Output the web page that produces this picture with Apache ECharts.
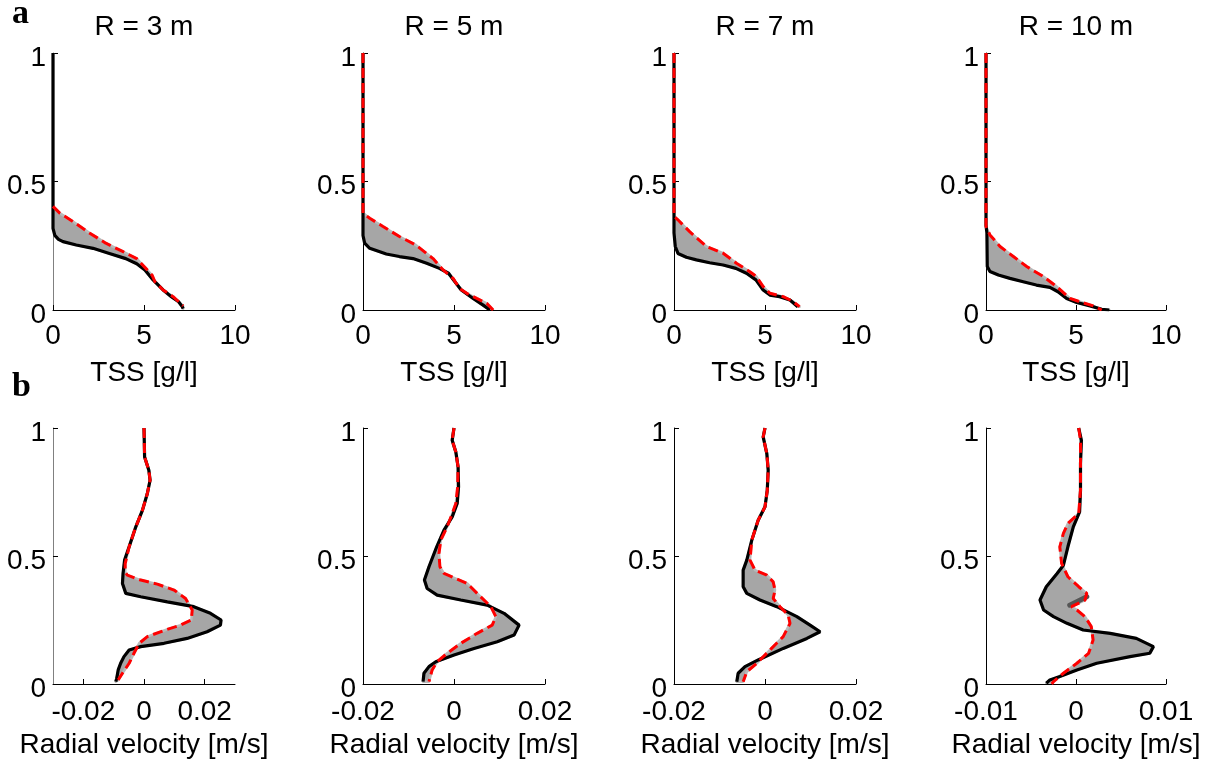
<!DOCTYPE html>
<html><head><meta charset="utf-8">
<script src="https://cdn.jsdelivr.net/npm/echarts@6/dist/echarts.min.js"></script>
<style>html,body{margin:0;padding:0;background:#fff}#c{width:1214px;height:763px}</style>
</head><body><div id="c"></div>
<script>
// ---------- texts & ticks ----------
const titles = ['R = 3 m', 'R = 5 m', 'R = 7 m', 'R = 10 m'];
const rowLetters = ['a', 'b'];
const tssName = 'TSS [g/l]';
const velName = 'Radial velocity [m/s]';
const depthTicks = [0, 0.5, 1];
const tssTicks = [0, 5, 10];
const tssRange = [0, 10];
const velRanges = [[-0.03, 0.03], [-0.02, 0.02], [-0.02, 0.02], [-0.01, 0.01]];
const velTicks = [[-0.02, 0, 0.02], [-0.02, 0, 0.02], [-0.02, 0, 0.02], [-0.01, 0, 0.01]];

// ---------- row a : TSS profiles [TSS, depth] ----------
const tss3Black = [[0,1],[0,0.318],[0.1,0.29],[0.3,0.275],[0.55,0.266],[1.28,0.253],[2.2,0.24],[3.1,0.22],[4.0,0.2],[4.6,0.18],[5.05,0.156],[5.5,0.117],[6.05,0.078],[6.5,0.052],[6.9,0.032],[7.1,0.013],[7.15,0.005]];
const tss3Red = [[0,0.403],[0.37,0.377],[1.1,0.344],[2.0,0.3],[2.9,0.26],[3.85,0.227],[4.6,0.2],[5.1,0.162],[5.45,0.135],[5.6,0.11],[6.05,0.078],[6.6,0.052],[7.15,0.016]];
const tss5Black = [[0,1],[0,0.29],[0.09,0.26],[0.37,0.24],[1.28,0.218],[2.0,0.208],[2.75,0.2],[3.5,0.182],[4.2,0.162],[4.7,0.143],[5.05,0.11],[5.4,0.078],[6.05,0.045],[6.6,0.019],[6.97,0]];
const tss5Red = [[0,1],[0,0.377],[0.37,0.357],[1.1,0.325],[2.0,0.286],[2.9,0.253],[3.85,0.2],[4.4,0.156],[4.95,0.123],[5.3,0.084],[5.7,0.065],[6.25,0.045],[6.8,0.026],[7.15,0]];
const tss7Black = [[0,1],[0,0.3],[0.07,0.247],[0.22,0.22],[0.68,0.205],[1.23,0.195],[1.96,0.184],[2.7,0.175],[3.4,0.162],[3.98,0.143],[4.5,0.117],[4.9,0.078],[5.27,0.058],[5.8,0.052],[6.37,0.039],[6.8,0.013]];
const tss7Red = [[0,1],[0,0.364],[0.2,0.352],[0.86,0.305],[1.78,0.247],[2.7,0.221],[3.43,0.182],[4.17,0.149],[4.53,0.13],[4.9,0.091],[5.27,0.065],[6.0,0.052],[6.5,0.035],[6.9,0.013]];
const tss10Black = [[0,1],[0,0.33],[0.05,0.3],[0.07,0.169],[0.22,0.15],[0.69,0.136],[1.33,0.123],[2.07,0.11],[2.8,0.097],[3.55,0.088],[4.0,0.071],[4.48,0.045],[5.04,0.029],[5.78,0.016],[6.43,0.003],[6.85,0]];
const tss10Red = [[0,1],[0,0.325],[0.22,0.292],[0.78,0.247],[1.52,0.208],[2.26,0.169],[3.19,0.13],[3.93,0.091],[4.67,0.045],[5.22,0.032],[5.96,0.016],[6.43,0]];

// ---------- row b : radial velocity profiles [velocity, depth] ----------
const vel3Black = [[0,1],[0.0002,0.887],[0.0016,0.835],[0.002,0.796],[0.0011,0.744],[-0.0005,0.679],[-0.0027,0.614],[-0.0049,0.536],[-0.0064,0.484],[-0.0069,0.432],[-0.0071,0.393],[-0.006,0.354],[-0.0011,0.341],[0.0077,0.321],[0.0164,0.302],[0.0219,0.276],[0.0254,0.25],[0.0252,0.23],[0.0208,0.204],[0.0142,0.178],[0.0066,0.159],[-0.0011,0.146],[-0.0049,0.133],[-0.0066,0.107],[-0.0077,0.081],[-0.0085,0.055],[-0.009,0.022],[-0.0093,0.009]];
const vel3Red = [[0,1],[0.0002,0.887],[0.0016,0.835],[0.002,0.796],[0.0011,0.744],[-0.0005,0.679],[-0.0027,0.614],[-0.0049,0.536],[-0.0062,0.47],[-0.0062,0.438],[-0.0055,0.425],[-0.0011,0.406],[0.0044,0.39],[0.0099,0.367],[0.0137,0.334],[0.0159,0.289],[0.0156,0.25],[0.012,0.23],[0.0071,0.211],[0.0011,0.185],[-0.0016,0.159],[-0.0033,0.12],[-0.0049,0.081],[-0.0071,0.042],[-0.0085,0.016]];
const vel5Black = [[0,1],[-0.0004,0.952],[0.0004,0.906],[0.0009,0.848],[0.001,0.77],[0.0007,0.705],[-0.0004,0.653],[-0.0022,0.601],[-0.0038,0.536],[-0.0055,0.458],[-0.0065,0.406],[-0.0059,0.373],[-0.0037,0.347],[0.0015,0.328],[0.0073,0.308],[0.011,0.276],[0.0143,0.23],[0.0132,0.191],[0.0095,0.165],[0.0044,0.139],[0,0.113],[-0.004,0.087],[-0.0055,0.068],[-0.0066,0.042],[-0.0068,0.009]];
const vel5Red = [[0,1],[-0.0004,0.952],[0.0004,0.906],[0.0009,0.848],[0.0008,0.77],[0.0004,0.705],[-0.0005,0.66],[-0.0015,0.614],[-0.0029,0.562],[-0.0033,0.51],[-0.0031,0.458],[-0.0022,0.432],[0.0004,0.412],[0.0029,0.393],[0.0051,0.354],[0.0081,0.302],[0.0092,0.263],[0.0084,0.23],[0.0051,0.198],[0.0015,0.159],[-0.0015,0.12],[-0.0037,0.087],[-0.0048,0.055],[-0.0055,0.009]];
const vel7Black = [[0,1],[-0.0004,0.965],[0.0004,0.9],[0.0007,0.835],[0.0005,0.757],[0,0.692],[-0.0015,0.64],[-0.0029,0.562],[-0.004,0.484],[-0.0048,0.445],[-0.0048,0.38],[-0.004,0.354],[-0.0011,0.328],[0.0026,0.302],[0.007,0.263],[0.0099,0.23],[0.0121,0.204],[0.0092,0.178],[0.004,0.139],[-0.0015,0.094],[-0.0044,0.068],[-0.0059,0.042],[-0.0062,0.009]];
const vel7Red = [[0,1],[-0.0004,0.965],[0.0004,0.9],[0.0007,0.835],[0.0005,0.757],[0,0.692],[-0.0015,0.64],[-0.0029,0.562],[-0.0033,0.484],[-0.0022,0.445],[0.0004,0.425],[0.0018,0.399],[0.0022,0.367],[0.0018,0.334],[0.0033,0.302],[0.0051,0.269],[0.0055,0.237],[0.004,0.185],[0.0011,0.133],[-0.0018,0.081],[-0.004,0.048],[-0.0048,0.009]];
const vel10Black = [[0.0003,1],[0.0006,0.952],[0.0005,0.861],[0.0005,0.757],[0.0004,0.672],[-0.0003,0.614],[-0.0009,0.536],[-0.0014,0.464],[-0.0021,0.432],[-0.0033,0.38],[-0.004,0.328],[-0.0036,0.289],[-0.0025,0.263],[-0.001,0.237],[0.0008,0.211],[0.0038,0.198],[0.0067,0.178],[0.0086,0.146],[0.0082,0.12],[0.006,0.107],[0.0023,0.081],[0.0001,0.055],[-0.0018,0.029],[-0.0029,0.016],[-0.0033,0.003]];
const vel10Red = [[0.0003,1],[0.0005,0.952],[0.0005,0.861],[0.0005,0.757],[0.0003,0.666],[-0.0009,0.627],[-0.0014,0.588],[-0.0018,0.536],[-0.0016,0.471],[-0.0009,0.419],[0.0003,0.38],[0.0012,0.354],[0.001,0.328],[-0.0005,0.302],[0.0001,0.289],[0.001,0.263],[0.0017,0.224],[0.0019,0.172],[0.0014,0.12],[0.0001,0.081],[-0.0014,0.042],[-0.0025,0.009],[-0.0027,0]];
const vel10Mark = [[-0.0007,0.308],[0.0012,0.341]];

const panels = [
  {black: tss3Black, red: tss3Red}, {black: tss5Black, red: tss5Red},
  {black: tss7Black, red: tss7Red}, {black: tss10Black, red: tss10Red},
  {black: vel3Black, red: vel3Red}, {black: vel5Black, red: vel5Red},
  {black: vel7Black, red: vel7Red}, {black: vel10Black, red: vel10Red, mark: vel10Mark}
];

// ---------- layout ----------
const colLeft = [53, 363, 674, 986];
const colWidth = [182, 182, 182, 180];
const rowTop = [53, 428];
const rowHeight = [257, 256];
const FONT = 'Liberation Sans';
const FS = 28;

const grid = [], xAxis = [], yAxis = [], series = [], graphic = [];
for (let r = 0; r < 2; r++) {
  for (let c = 0; c < 4; c++) {
    const i = r * 4 + c;
    grid.push({left: colLeft[c], top: rowTop[r], width: colWidth[c], height: rowHeight[r], containLabel: false});
    const axisGray = (c === 0) ? '#808080' : '#000';
    xAxis.push({
      gridIndex: i, type: 'value',
      min: r === 0 ? tssRange[0] : velRanges[c][0],
      max: r === 0 ? tssRange[1] : velRanges[c][1],
      axisLine: {show: true, onZero: false, lineStyle: {color: '#000', width: 1}},
      axisTick: {show: true, inside: true, length: 5, lineStyle: {color: '#000'},
                 customValues: r === 0 ? tssTicks : velTicks[c]},
      axisLabel: {show: true, color: '#000', fontSize: FS, fontFamily: FONT, margin: r === 0 ? 12 : 14,
                  showMinLabel: true, showMaxLabel: true,
                  customValues: r === 0 ? tssTicks : velTicks[c]},
      splitLine: {show: false},
      name: r === 0 ? tssName : velName, nameLocation: 'middle', nameGap: r === 0 ? 49 : 47,
      nameTextStyle: {color: '#000', fontSize: FS, fontFamily: FONT}
    });
    yAxis.push({
      gridIndex: i, type: 'value', min: 0, max: 1, interval: 0.5,
      axisLine: {show: true, onZero: false, lineStyle: {color: axisGray, width: 1}},
      axisTick: {show: true, inside: true, length: 5, lineStyle: {color: '#000'}},
      axisLabel: {show: true, color: '#000', fontSize: FS, fontFamily: FONT, margin: 7,
                  verticalAlign: 'top', lineHeight: 10,
                  customValues: depthTicks},
      splitLine: {show: false}
    });
    const p = panels[i];
    series.push({
      type: 'custom', xAxisIndex: i, yAxisIndex: i, silent: true, z: 1, clip: true,
      data: [[0, 0]],
      renderItem: (function (pp) {
        return function (params, api) {
          const pts = pp.black.map(d => api.coord(d)).concat(pp.red.slice().reverse().map(d => api.coord(d)));
          return {type: 'polygon', shape: {points: pts},
                  style: {fill: '#a6a6a6', stroke: '#b9b9b9', lineWidth: 2.5, lineJoin: 'round'}};
        };
      })(p)
    });
    series.push({type: 'line', xAxisIndex: i, yAxisIndex: i, data: p.black, showSymbol: false, symbol: 'none',
                 silent: true, z: 2, lineStyle: {color: '#000', width: 3.2}});
    if (p.mark) {
      series.push({type: 'line', xAxisIndex: i, yAxisIndex: i, data: p.mark, showSymbol: false, symbol: 'none',
                   silent: true, z: 3, lineStyle: {color: '#555', width: 5, cap: 'round'}});
    }
    series.push({type: 'line', xAxisIndex: i, yAxisIndex: i, data: p.red, showSymbol: false, symbol: 'none',
                 silent: true, z: 4, lineStyle: {color: '#ff0000', width: 3, type: [10, 5]}});
  }
}
for (let c = 0; c < 4; c++) {
  graphic.push({type: 'text', x: colLeft[c] + colWidth[c] / 2, y: 27,
    style: {text: titles[c], fill: '#000', font: FS + 'px ' + FONT, align: 'center', verticalAlign: 'middle'}});
}
graphic.push({type: 'text', x: 12, y: 14, style: {text: rowLetters[0], fill: '#000', font: 'bold 34px "Liberation Serif"', align: 'left', verticalAlign: 'middle'}});
graphic.push({type: 'text', x: 12, y: 387, style: {text: rowLetters[1], fill: '#000', font: 'bold 34px "Liberation Serif"', align: 'left', verticalAlign: 'middle'}});

const chart = echarts.init(document.getElementById('c'), null, {renderer: 'canvas'});
chart.setOption({animation: false, backgroundColor: '#fff', grid, xAxis, yAxis, series, graphic});
</script></body></html>
